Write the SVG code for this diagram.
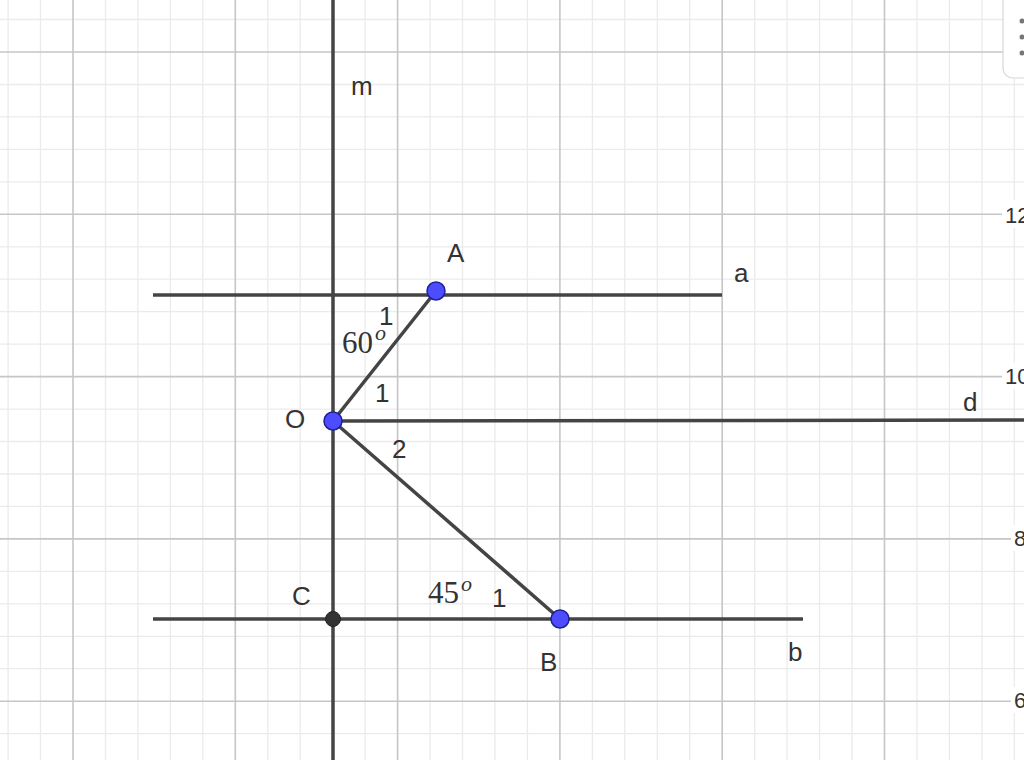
<svg xmlns="http://www.w3.org/2000/svg" width="1024" height="760" viewBox="0 0 1024 760">
<style>
.minor{stroke:#ebebeb;stroke-width:1.3}
.major{stroke:#c6c6c6;stroke-width:1.6}
.ln{stroke:#444;stroke-width:3.5;stroke-linecap:butt;fill:none}
.lbl{font-family:"Liberation Sans",Arial,sans-serif;font-size:26px;fill:#333}
.ang{font-family:"Liberation Serif","Times New Roman",serif;font-size:31px;fill:#333}
.sup{font-family:"Liberation Serif","Times New Roman",serif;font-size:22px;font-style:italic;fill:#333}
.ax{font-family:"Liberation Sans",Arial,sans-serif;font-size:22px;fill:#333}
.pt{fill:#4d4dff;stroke:#1f1f99;stroke-width:1.5}
</style>
<rect width="1024" height="760" fill="#fff"/>
<g id="grid">
<g class="minor">
<line x1="8.1" y1="0" x2="8.1" y2="760"/><line x1="40.5" y1="0" x2="40.5" y2="760"/>
<line x1="105.5" y1="0" x2="105.5" y2="760"/><line x1="137.9" y1="0" x2="137.9" y2="760"/><line x1="170.4" y1="0" x2="170.4" y2="760"/><line x1="202.8" y1="0" x2="202.8" y2="760"/>
<line x1="267.8" y1="0" x2="267.8" y2="760"/><line x1="300.2" y1="0" x2="300.2" y2="760"/><line x1="365.1" y1="0" x2="365.1" y2="760"/>
<line x1="430.1" y1="0" x2="430.1" y2="760"/><line x1="462.5" y1="0" x2="462.5" y2="760"/><line x1="494.9" y1="0" x2="494.9" y2="760"/><line x1="527.4" y1="0" x2="527.4" y2="760"/>
<line x1="592.4" y1="0" x2="592.4" y2="760"/><line x1="624.8" y1="0" x2="624.8" y2="760"/><line x1="657.3" y1="0" x2="657.3" y2="760"/><line x1="689.7" y1="0" x2="689.7" y2="760"/>
<line x1="754.7" y1="0" x2="754.7" y2="760"/><line x1="787.1" y1="0" x2="787.1" y2="760"/><line x1="819.6" y1="0" x2="819.6" y2="760"/><line x1="852" y1="0" x2="852" y2="760"/>
<line x1="917" y1="0" x2="917" y2="760"/><line x1="949.4" y1="0" x2="949.4" y2="760"/><line x1="981.9" y1="0" x2="981.9" y2="760"/><line x1="1014.3" y1="0" x2="1014.3" y2="760"/>
<line x1="0" y1="19.5" x2="1024" y2="19.5"/>
<line x1="0" y1="84.5" x2="1024" y2="84.5"/><line x1="0" y1="116.9" x2="1024" y2="116.9"/><line x1="0" y1="149.4" x2="1024" y2="149.4"/><line x1="0" y1="181.8" x2="1024" y2="181.8"/>
<line x1="0" y1="246.8" x2="1024" y2="246.8"/><line x1="0" y1="279.2" x2="1024" y2="279.2"/><line x1="0" y1="311.7" x2="1024" y2="311.7"/><line x1="0" y1="344.1" x2="1024" y2="344.1"/>
<line x1="0" y1="409.1" x2="1024" y2="409.1"/><line x1="0" y1="441.5" x2="1024" y2="441.5"/><line x1="0" y1="474" x2="1024" y2="474"/><line x1="0" y1="506.4" x2="1024" y2="506.4"/>
<line x1="0" y1="571.4" x2="1024" y2="571.4"/><line x1="0" y1="603.8" x2="1024" y2="603.8"/><line x1="0" y1="636.3" x2="1024" y2="636.3"/><line x1="0" y1="668.7" x2="1024" y2="668.7"/>
<line x1="0" y1="733.7" x2="1024" y2="733.7"/>
</g>
<g class="major">
<line x1="73" y1="0" x2="73" y2="760"/><line x1="235.3" y1="0" x2="235.3" y2="760"/><line x1="397.6" y1="0" x2="397.6" y2="760"/><line x1="559.9" y1="0" x2="559.9" y2="760"/><line x1="722.2" y1="0" x2="722.2" y2="760"/><line x1="884.5" y1="0" x2="884.5" y2="760"/>
<line x1="0" y1="52" x2="1024" y2="52"/><line x1="0" y1="214.3" x2="1024" y2="214.3"/><line x1="0" y1="376.6" x2="1024" y2="376.6"/><line x1="0" y1="538.9" x2="1024" y2="538.9"/><line x1="0" y1="701.2" x2="1024" y2="701.2"/>
</g>
</g>
<g id="axis-labels">
<rect x="1002" y="200" width="30" height="28" fill="#fff"/>
<text class="ax" x="1005" y="223">12</text>
<rect x="1002" y="363" width="30" height="26" fill="#fff"/>
<text class="ax" x="1005" y="384">10</text>
<rect x="1011" y="525" width="20" height="26" fill="#fff"/>
<text class="ax" x="1014" y="546">8</text>
<rect x="1011" y="687" width="20" height="26" fill="#fff"/>
<text class="ax" x="1014" y="708">6</text>
</g>
<g id="connectors">
<line id="m" class="ln" x1="333" y1="0" x2="333" y2="760"/>
<line id="a" class="ln" x1="153" y1="295" x2="722" y2="295"/>
<line id="d" class="ln" x1="333" y1="421" x2="1024" y2="420"/>
<line id="b" class="ln" x1="153" y1="619" x2="803" y2="619"/>
<line id="OA" class="ln" x1="333" y1="421" x2="436" y2="291"/>
<line id="OB" class="ln" x1="333" y1="421" x2="560" y2="619"/>
</g>
<g id="line-labels">
<text class="lbl" x="351" y="95">m</text>
<text class="lbl" x="734" y="282">a</text>
<text class="lbl" x="963" y="411">d</text>
<text class="lbl" x="788" y="661">b</text>
</g>
<g id="angle-labels">
<text class="lbl" x="379" y="325">1</text>
<text class="ang" x="342" y="353">60</text>
<text class="sup" x="375" y="340">o</text>
<text class="lbl" x="375" y="402">1</text>
<text class="lbl" x="392" y="458">2</text>
<text class="ang" x="428" y="603">45</text>
<text class="sup" x="461" y="591">o</text>
<text class="lbl" x="492" y="607">1</text>
</g>
<g id="node-A"><circle class="pt" cx="436" cy="291" r="9"/><text class="lbl" x="447" y="262">A</text></g>
<g id="node-O"><circle class="pt" cx="333" cy="421" r="9"/><text class="lbl" x="285" y="428">O</text></g>
<g id="node-B"><circle class="pt" cx="560" cy="619" r="9"/><text class="lbl" x="540" y="671">B</text></g>
<g id="node-C"><circle cx="333" cy="619" r="7.5" fill="#333" stroke="#222" stroke-width="1"/><text class="lbl" x="292" y="605">C</text></g>
<g id="menu">
<rect x="1003" y="-12" width="40" height="90" rx="10" fill="#fff" stroke="#d8d8d8" stroke-width="1.2"/>
<circle cx="1022" cy="21" r="2.5" fill="#777"/><circle cx="1022" cy="37" r="2.5" fill="#777"/><circle cx="1022" cy="53" r="2.5" fill="#777"/>
</g>
</svg>
